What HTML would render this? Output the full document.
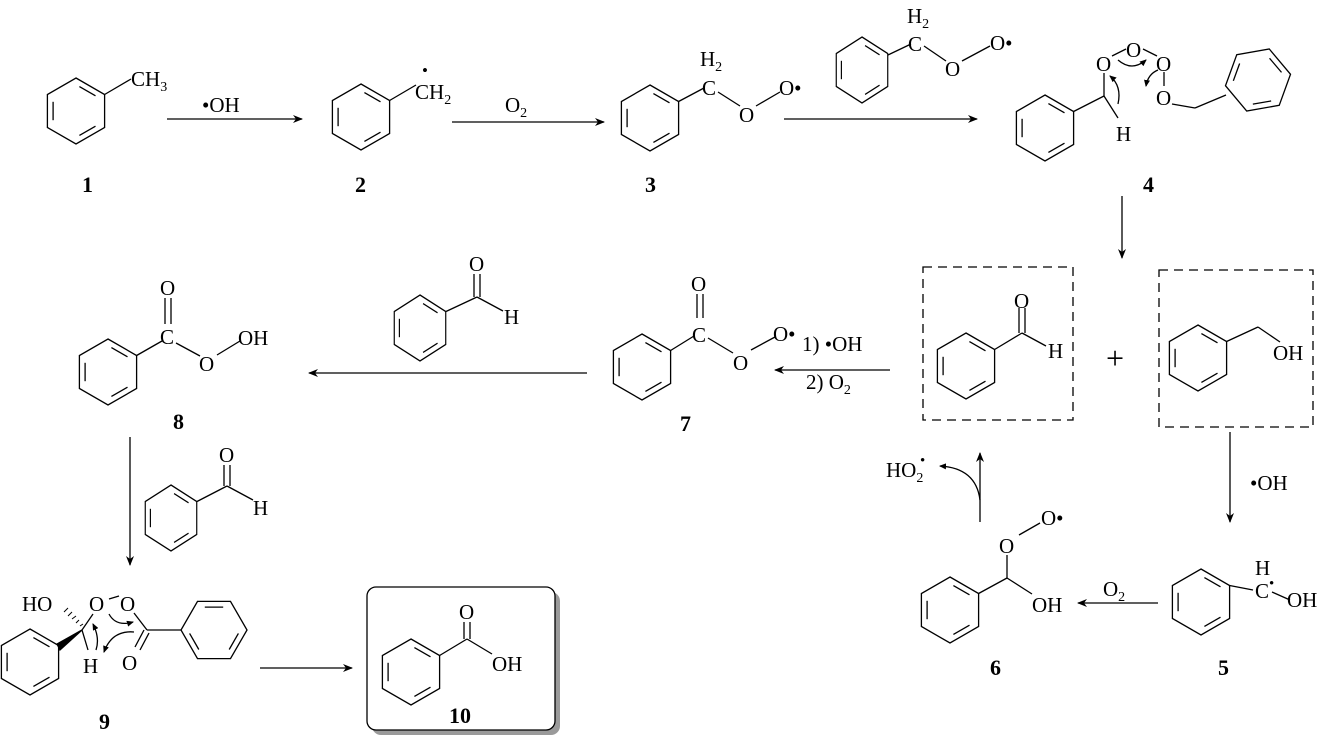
<!DOCTYPE html>
<html><head><meta charset="utf-8"><style>
html,body{margin:0;padding:0;background:#fff;}
svg{display:block;}
text{font-family:"Liberation Serif",serif;font-size:21px;fill:#000;}
.lb{font-weight:bold;font-size:22px;}
.s{font-size:14px;}
</style></head><body>
<svg width="1328" height="736" viewBox="0 0 1328 736" xmlns="http://www.w3.org/2000/svg">
<defs>
<g id="bz" fill="none" stroke="#000" stroke-width="1.3">
<polygon points="0,-33 28.6,-16.5 28.6,16.5 0,33 -28.6,16.5 -28.6,-16.5"/>
<line x1="3.4" y1="-24.4" x2="19.5" y2="-15.2"/>
<line x1="19.5" y1="15.2" x2="3.4" y2="24.4"/>
<line x1="-22.9" y1="9.2" x2="-22.9" y2="-9.2"/>
</g>
<marker id="ah" markerWidth="10" markerHeight="8" refX="9" refY="4" orient="auto" markerUnits="userSpaceOnUse">
<path d="M0,0 L10,4 L0,8 L3,4 Z" fill="#000"/>
</marker>
<marker id="ahs" markerWidth="7" markerHeight="6" refX="6" refY="3" orient="auto" markerUnits="userSpaceOnUse">
<path d="M0,0 L7,3 L0,6 Z" fill="#000"/>
</marker>
</defs>
<g stroke="#000" stroke-width="1.3" fill="none">
<use href="#bz" transform="translate(76,111)"/>
<line x1="104.6" y1="94.5" x2="131" y2="79"/>
<line x1="167" y1="119" x2="302" y2="119" marker-end="url(#ah)"/>
<use href="#bz" transform="translate(361,117)"/>
<line x1="389.6" y1="100.5" x2="416" y2="85"/>
<line x1="452" y1="122" x2="604" y2="122" marker-end="url(#ah)"/>
<use href="#bz" transform="translate(650,118)"/>
<line x1="678.6" y1="101.5" x2="704" y2="88"/>
<line x1="718" y1="92" x2="740" y2="106"/>
<line x1="756" y1="106" x2="780" y2="92"/>
<line x1="784" y1="119" x2="977" y2="119" marker-end="url(#ah)"/>
<use href="#bz" transform="translate(862,70) scale(0.9,1)"/>
<line x1="888" y1="55" x2="911" y2="44"/>
<line x1="924" y1="46" x2="946" y2="61"/>
<line x1="962" y1="61" x2="990" y2="46"/>
<use href="#bz" transform="translate(1045,128)"/>
<line x1="1073.6" y1="111.5" x2="1104" y2="96"/>
<line x1="1104" y1="96" x2="1104" y2="73"/>
<line x1="1104" y1="96" x2="1118" y2="118"/>
<line x1="1112" y1="56" x2="1126" y2="49"/>
<line x1="1143" y1="49" x2="1157" y2="56"/>
<line x1="1164" y1="72" x2="1164" y2="86"/>
<line x1="1172" y1="104" x2="1195" y2="108"/>
<line x1="1195" y1="108" x2="1226" y2="95"/>
<use href="#bz" transform="translate(1258,80) rotate(20)"/>
<path d="M1118,104 Q1122,86 1110,76" marker-end="url(#ahs)"/>
<path d="M1118,60 Q1132,72 1146,60" marker-end="url(#ahs)"/>
<path d="M1158,70 Q1148,74 1146,86" marker-end="url(#ahs)"/>
<line x1="1122" y1="196" x2="1122" y2="258" marker-end="url(#ah)"/>
<rect x="923" y="267" width="150" height="153" stroke-dasharray="9,6"/>
<rect x="1159" y="270" width="154" height="157" stroke-dasharray="9,6"/>
<use href="#bz" transform="translate(966,366)"/>
<line x1="994.6" y1="349.5" x2="1022" y2="333"/>
<line x1="1019" y1="333" x2="1019" y2="308"/><line x1="1025" y1="333" x2="1025" y2="308"/>
<line x1="1022" y1="333" x2="1046" y2="346"/>
<use href="#bz" transform="translate(1198,358)"/>
<line x1="1226.6" y1="341.5" x2="1258" y2="327"/>
<line x1="1258" y1="327" x2="1280" y2="342"/>
<line x1="1230" y1="432" x2="1230" y2="522" marker-end="url(#ah)"/>
<use href="#bz" transform="translate(1201,602)"/>
<line x1="1229.6" y1="585.5" x2="1253" y2="590"/>
<line x1="1272" y1="592" x2="1290" y2="600"/>
<line x1="1158" y1="603" x2="1078" y2="603" marker-end="url(#ah)"/>
<use href="#bz" transform="translate(950,610)"/>
<line x1="978.6" y1="593.5" x2="1007" y2="578"/>
<line x1="1007" y1="578" x2="1007" y2="555"/>
<line x1="1007" y1="578" x2="1032" y2="594"/>
<line x1="1019" y1="535" x2="1040" y2="523"/>
<line x1="980" y1="522" x2="980" y2="453" marker-end="url(#ah)"/>
<path d="M980,500 Q976,468 940,466" marker-end="url(#ahs)"/>
<line x1="890" y1="370" x2="775" y2="370" marker-end="url(#ah)"/>
<use href="#bz" transform="translate(642,367)"/>
<line x1="670.6" y1="350.5" x2="694" y2="336"/>
<line x1="697" y1="318" x2="697" y2="294"/><line x1="703" y1="318" x2="703" y2="294"/>
<line x1="708" y1="338" x2="733" y2="353"/>
<line x1="751" y1="350" x2="775" y2="337"/>
<line x1="587" y1="373" x2="309" y2="373" marker-end="url(#ah)"/>
<use href="#bz" transform="translate(420,328) scale(0.9,1)"/>
<line x1="446" y1="311.5" x2="477" y2="297"/>
<line x1="474" y1="297" x2="474" y2="274"/><line x1="480" y1="297" x2="480" y2="274"/>
<line x1="477" y1="297" x2="503" y2="311"/>
<use href="#bz" transform="translate(108,372)"/>
<line x1="136.6" y1="355.5" x2="162" y2="341"/>
<line x1="165" y1="324" x2="165" y2="298"/><line x1="171" y1="324" x2="171" y2="298"/>
<line x1="176" y1="343" x2="200" y2="356"/>
<line x1="217" y1="355" x2="240" y2="341"/>
<line x1="130" y1="437" x2="130" y2="565" marker-end="url(#ah)"/>
<use href="#bz" transform="translate(171,518) scale(0.9,1)"/>
<line x1="197" y1="501.5" x2="227" y2="486"/>
<line x1="224" y1="486" x2="224" y2="465"/><line x1="230" y1="486" x2="230" y2="465"/>
<line x1="227" y1="486" x2="253" y2="500"/>
<use href="#bz" transform="translate(30,662)"/>
<polygon points="82,630 57,644 60,650" fill="#000"/>
<g stroke-width="1">
<line x1="80" y1="626" x2="83" y2="624"/><line x1="76" y1="623" x2="79" y2="620"/><line x1="72" y1="619" x2="76" y2="616"/><line x1="68" y1="616" x2="72" y2="612"/><line x1="64" y1="612" x2="68" y2="608"/>
</g>
<line x1="82" y1="630" x2="93" y2="614"/>
<line x1="82" y1="630" x2="88" y2="650"/>
<line x1="109" y1="599" x2="119" y2="596"/>
<line x1="134" y1="613" x2="147" y2="630"/>
<line x1="144" y1="630" x2="135" y2="647"/><line x1="149" y1="633" x2="140" y2="650"/>
<line x1="147" y1="630" x2="181" y2="630"/>
<use href="#bz" transform="translate(214,630) rotate(90)"/>
<path d="M109,614 Q116,627 133,622" marker-end="url(#ahs)"/>
<path d="M96,650 Q100,638 93,624" marker-end="url(#ahs)"/>
<path d="M134,632 Q112,630 104,652" marker-end="url(#ahs)"/>
<line x1="260" y1="668" x2="352" y2="668" marker-end="url(#ah)"/>
<rect x="372" y="592" width="188" height="143" rx="9" fill="#9a9a9a" stroke="none"/>
<rect x="367" y="587" width="188" height="143" rx="9" fill="#fff"/>
<use href="#bz" transform="translate(411,672)"/>
<line x1="439.6" y1="655.5" x2="467" y2="639"/>
<line x1="464" y1="639" x2="464" y2="622"/><line x1="470" y1="639" x2="470" y2="622"/>
<line x1="467" y1="639" x2="492" y2="654"/>
</g>
<g>
<text x="131" y="86">CH<tspan class="s" dy="5">3</tspan></text>
<text x="202" y="112">•OH</text>
<text x="415" y="99">CH<tspan class="s" dy="5">2</tspan></text>
<text x="422" y="76" style="font-size:17px">•</text>
<text x="505" y="112">O<tspan class="s" dy="5">2</tspan></text>
<text x="700" y="66">H<tspan class="s" dy="5">2</tspan></text>
<text x="702" y="95">C</text>
<text x="739" y="122">O</text>
<text x="779" y="95">O•</text>
<text x="907" y="23">H<tspan class="s" dy="5">2</tspan></text>
<text x="908" y="51">C</text>
<text x="945" y="76">O</text>
<text x="990" y="50">O•</text>
<text x="1096" y="71">O</text>
<text x="1126" y="57">O</text>
<text x="1156" y="71">O</text>
<text x="1156" y="105">O</text>
<text x="1116" y="141">H</text>
<text x="1014" y="308">O</text>
<text x="1048" y="358">H</text>
<text x="1106" y="369" style="font-size:32px">+</text>
<text x="1273" y="360">OH</text>
<text x="1250" y="490">•OH</text>
<text x="1255" y="575">H</text>
<text x="1255" y="598">C</text>
<text x="1269" y="588" style="font-size:15px">•</text>
<text x="1287" y="607">OH</text>
<text x="1103" y="596">O<tspan class="s" dy="5">2</tspan></text>
<text x="999" y="553">O</text>
<text x="1041" y="525">O•</text>
<text x="1032" y="612">OH</text>
<text x="886" y="477">HO<tspan class="s" dy="5">2</tspan></text>
<text x="920" y="465" style="font-size:15px">•</text>
<text x="691" y="291">O</text>
<text x="692" y="342">C</text>
<text x="733" y="370">O</text>
<text x="773" y="341">O•</text>
<text x="802" y="351">1) •OH</text>
<text x="806" y="389">2) O<tspan class="s" dy="5">2</tspan></text>
<text x="469" y="271">O</text>
<text x="504" y="324">H</text>
<text x="160" y="295">O</text>
<text x="160" y="344">C</text>
<text x="199" y="371">O</text>
<text x="238" y="345">OH</text>
<text x="219" y="462">O</text>
<text x="253" y="515">H</text>
<text x="22" y="611">HO</text>
<text x="89" y="611">O</text>
<text x="120" y="611">O</text>
<text x="83" y="673">H</text>
<text x="122" y="670">O</text>
<text x="459" y="619">O</text>
<text x="492" y="671">OH</text>
<text class="lb" x="82" y="192">1</text>
<text class="lb" x="355" y="192">2</text>
<text class="lb" x="645" y="192">3</text>
<text class="lb" x="1143" y="192">4</text>
<text class="lb" x="1218" y="675">5</text>
<text class="lb" x="990" y="675">6</text>
<text class="lb" x="680" y="431">7</text>
<text class="lb" x="173" y="429">8</text>
<text class="lb" x="99" y="729">9</text>
<text class="lb" x="449" y="723">10</text>
</g>
</svg>
</body></html>
